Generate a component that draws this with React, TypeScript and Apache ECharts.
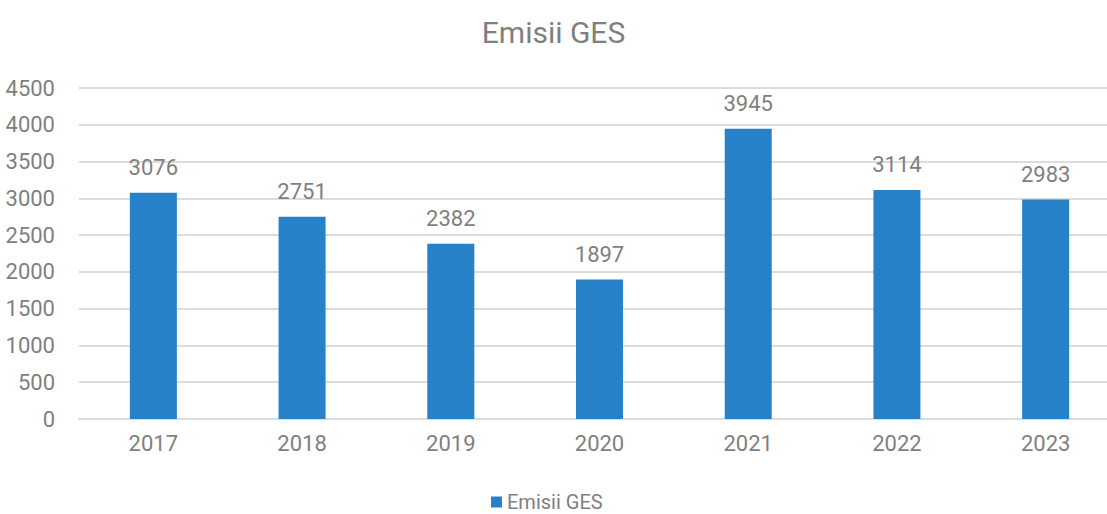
import React, { useEffect, useRef } from "react";
import * as echarts from "echarts";

const years = ["2017", "2018", "2019", "2020", "2021", "2022", "2023"];
const emissions = [3076, 2751, 2382, 1897, 3945, 3114, 2983];
const seriesName = "Emisii GES";
const titleText = "Emisii GES";

const FONT = "Roboto, 'DejaVu Sans Condensed', sans-serif";
const GRAY = "#7f7f7f";

export default function App() {
  const ref = useRef<HTMLDivElement>(null);
  useEffect(() => {
    document.body.style.margin = "0";
    const chart = echarts.init(ref.current!, undefined, { renderer: "svg" });
    chart.setOption({
      animation: false,
      title: {
        text: titleText,
        left: "center",
        top: 12,
        textStyle: { fontFamily: FONT, fontSize: 30, fontWeight: "normal", color: GRAY },
      },
      legend: {
        bottom: 0,
        left: 486,
        itemWidth: 11,
        itemHeight: 11,
        icon: "rect",
        itemGap: 6,
        padding: [2, 5, 2, 5],
        textStyle: { fontFamily: FONT, fontSize: 20, color: GRAY },
        data: [seriesName],
      },
      grid: { left: 79, top: 88, width: 1041, height: 331, containLabel: false, outerBoundsMode: "none" },
      xAxis: {
        type: "category",
        data: years,
        axisLine: { show: true, lineStyle: { color: "#dcdcdc", width: 2 } },
        axisTick: { show: false },
        axisLabel: { fontFamily: FONT, fontSize: 22, color: GRAY, margin: 13 },
      },
      yAxis: {
        type: "value",
        min: 0,
        max: 4500,
        interval: 500,
        axisLine: { show: false },
        axisTick: { show: false },
        splitLine: { lineStyle: { color: "#dcdcdc", width: 2 } },
        axisLabel: {
          fontFamily: FONT,
          fontSize: 22,
          color: GRAY,
          margin: 24,
          formatter: (v: number) => String(v),
        },
      },
      series: [
        {
          name: seriesName,
          type: "bar",
          data: emissions,
          barWidth: 47,
          itemStyle: { color: "#2681C8" },
          label: {
            show: true,
            position: "top",
            distance: 14,
            fontFamily: FONT,
            fontSize: 22,
            color: GRAY,
          },
        },
      ],
    });
    return () => chart.dispose();
  }, []);
  return <div ref={ref} style={{ width: 1107, height: 514 }} />;
}
